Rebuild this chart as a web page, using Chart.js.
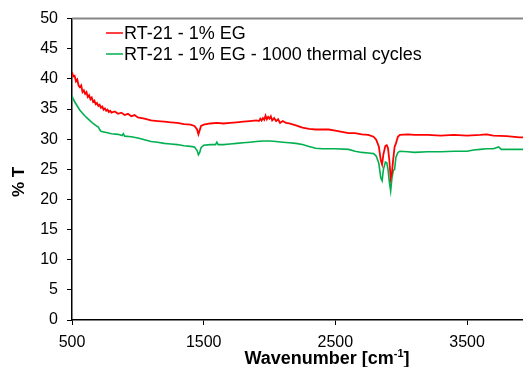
<!DOCTYPE html>
<html>
<head>
<meta charset="utf-8">
<script src="https://cdn.jsdelivr.net/npm/chart.js@4.4.0/dist/chart.umd.min.js"></script>
<style>
    html, body { margin: 0; padding: 0; background: #ffffff; }
    #ftirChart { display: block; }
</style>
</head>
<body>
<canvas id="ftirChart" width="523" height="367"></canvas>
<script>
// Series labels
const seriesLabels = ['RT-21 - 1% EG', 'RT-21 - 1% EG - 1000 thermal cycles'];

// RT-21 - 1% EG (red, noisy trace)
const redWavenumber = [500, 510, 520, 530, 540, 550, 560, 570, 580, 590, 600, 610, 620, 630, 640, 650,
    660, 670, 680, 690, 700, 710, 720, 730, 740, 750, 760, 770, 780, 790, 800, 825, 850, 875, 900, 925,
    950, 975, 1000, 1050, 1100, 1150, 1200, 1250, 1300, 1350, 1400, 1430, 1450, 1460, 1470, 1480,
    1500, 1550, 1600, 1650, 1700, 1750, 1800, 1850, 1900, 1920, 1930, 1940, 1950, 1960, 1970, 1980,
    1990, 2000, 2010, 2020, 2035, 2050, 2065, 2080, 2100, 2125, 2150, 2200, 2250, 2300, 2350, 2400,
    2450, 2500, 2550, 2600, 2650, 2700, 2750, 2790, 2810, 2830, 2845, 2855, 2865, 2880, 2890, 2900,
    2910, 2920, 2930, 2940, 2950, 2960, 2975, 2990, 3050, 3100, 3200, 3300, 3400, 3500, 3600, 3650,
    3700, 3800, 3900, 3925];
const redT = [41.1, 40.4, 40.5, 39.6, 39.9, 38.9, 38.6, 38.9, 37.8, 38.1, 37.5, 37.8, 37.0, 37.3, 36.6, 36.9,
    36.2, 36.4, 35.8, 36.0, 35.5, 35.7, 35.2, 35.4, 34.9, 35.1, 34.7, 34.9, 34.5, 34.7, 34.4, 34.6, 34.2, 34.4,
    34.0, 34.2, 33.8, 34.0, 33.6, 33.4, 33.1, 33.0, 32.9, 32.8, 32.7, 32.5, 32.4, 32.2, 31.6, 30.8, 31.5,
    32.2, 32.4, 32.6, 32.7, 32.6, 32.7, 32.8, 32.9, 33.0, 33.1, 33.0, 33.4, 33.1, 33.5, 33.2, 33.9, 33.3,
    33.7, 33.4, 33.8, 33.1, 33.5, 33.0, 33.3, 32.7, 33.0, 32.7, 32.6, 32.3, 31.9, 31.7, 31.6, 31.6,
    31.6, 31.4, 31.2, 31.0, 31.0, 30.8, 30.7, 30.4, 29.9, 28.8, 26.5, 25.8, 27.5, 28.9, 29.0, 28.5,
    26.5, 23.5, 24.5, 26.8, 28.7, 29.3, 30.4, 30.7, 30.8, 30.7, 30.7, 30.6, 30.7, 30.6, 30.7, 30.8,
    30.6, 30.5, 30.3, 30.3];

// RT-21 - 1% EG - 1000 thermal cycles (green)
const greenWavenumber = [500, 520, 540, 560, 580, 600, 620, 640, 660, 680, 700, 710, 720, 740, 760, 800,
    850, 880, 890, 900, 950, 1000, 1050, 1100, 1150, 1200, 1250, 1300, 1350, 1400, 1430, 1450, 1460,
    1470, 1480, 1500, 1550, 1590, 1600, 1610, 1650, 1700, 1750, 1800, 1850, 1900, 1950, 2000, 2050,
    2100, 2150, 2200, 2250, 2300, 2330, 2350, 2400, 2500, 2600, 2650, 2700, 2750, 2790, 2810, 2830,
    2845, 2855, 2865, 2880, 2890, 2900, 2910, 2920, 2930, 2940, 2950, 2960, 2975, 2990, 3050, 3100,
    3200, 3300, 3400, 3500, 3550, 3600, 3650, 3700, 3740, 3760, 3800, 3900, 3925];
const greenT = [37.1, 36.2, 35.5, 34.8, 34.3, 33.8, 33.4, 33.0, 32.6, 32.3, 32.0, 31.6, 31.3, 31.2, 31.1, 30.9,
    30.8, 30.6, 30.9, 30.5, 30.4, 30.2, 29.9, 29.6, 29.5, 29.3, 29.2, 29.1, 28.9, 28.8, 28.7, 28.1, 27.4,
    27.8, 28.6, 29.0, 29.1, 29.1, 29.5, 29.1, 29.1, 29.2, 29.3, 29.4, 29.5, 29.6, 29.7, 29.7, 29.6,
    29.5, 29.4, 29.3, 29.1, 28.8, 28.6, 28.5, 28.4, 28.4, 28.3, 28.0, 27.8, 27.7, 27.6, 27.2, 26.0,
    23.6, 23.1, 25.0, 26.2, 26.1, 25.0, 22.9, 21.4, 23.6, 24.8, 25.0, 27.0, 27.8, 28.0, 27.9, 27.8,
    27.9, 27.9, 28.0, 28.0, 28.2, 28.3, 28.4, 28.4, 28.7, 28.3, 28.3, 28.3, 28.3];

// Axis ticks
const xTicks = [500, 1500, 2500, 3500];
const yTicks = [0, 5, 10, 15, 20, 25, 30, 35, 40, 45, 50];

const colors = {
    red: '#ff0000',
    green: '#00b050'
};

const FONT = '"Liberation Sans", Arial, sans-serif';

function toPoints(xs, ys) {
    return xs.map((x, i) => ({ x: x, y: ys[i] }));
}

// Draws the top border, legend and axis titles
const decorPlugin = {
    id: 'decor',
    afterDraw(chart) {
        const ctx = chart.ctx;
        const area = chart.chartArea;
        ctx.save();

        // gray top border of the plot area
        ctx.strokeStyle = '#868686';
        ctx.lineWidth = 2;
        ctx.beginPath();
        ctx.moveTo(area.left, area.top);
        ctx.lineTo(area.right, area.top);
        ctx.stroke();

        // legend
        const legendRows = [
            { label: seriesLabels[0], color: colors.red, y: 33 },
            { label: seriesLabels[1], color: colors.green, y: 54 }
        ];
        ctx.font = '18px ' + FONT;
        ctx.textBaseline = 'middle';
        ctx.textAlign = 'left';
        legendRows.forEach(row => {
            ctx.strokeStyle = row.color;
            ctx.lineWidth = 1.5;
            ctx.beginPath();
            ctx.moveTo(106, row.y);
            ctx.lineTo(123, row.y);
            ctx.stroke();
            ctx.fillStyle = '#000000';
            ctx.fillText(row.label, 124, row.y + 1);
        });

        // y axis title
        ctx.save();
        ctx.translate(19, 182);
        ctx.rotate(-Math.PI / 2);
        ctx.font = 'bold 17px ' + FONT;
        ctx.textAlign = 'center';
        ctx.fillStyle = '#000000';
        ctx.fillText('% T', 0, 0);
        ctx.restore();

        // x axis title with superscript
        const mainFont = 'bold 18px ' + FONT;
        const supFont = 'bold 11px ' + FONT;
        const part1 = 'Wavenumber [cm';
        const sup = '-1';
        const part2 = ']';
        ctx.font = mainFont;
        const w1 = ctx.measureText(part1).width;
        const w3 = ctx.measureText(part2).width;
        ctx.font = supFont;
        const w2 = ctx.measureText(sup).width;
        const total = w1 + w2 + w3;
        let x = 327 - total / 2;
        const baseY = 364;
        ctx.textAlign = 'left';
        ctx.textBaseline = 'alphabetic';
        ctx.fillStyle = '#000000';
        ctx.font = mainFont;
        ctx.fillText(part1, x, baseY);
        x += w1;
        ctx.font = supFont;
        ctx.fillText(sup, x, baseY - 7);
        x += w2;
        ctx.font = mainFont;
        ctx.fillText(part2, x, baseY);

        ctx.restore();
    }
};

new Chart(document.getElementById('ftirChart'), {
    type: 'line',
    data: {
        datasets: [{
            label: seriesLabels[0],
            data: toPoints(redWavenumber, redT),
            borderColor: colors.red,
            borderWidth: 1.8,
            pointRadius: 0,
            tension: 0,
            fill: false
        }, {
            label: seriesLabels[1],
            data: toPoints(greenWavenumber, greenT),
            borderColor: colors.green,
            borderWidth: 1.6,
            pointRadius: 0,
            tension: 0,
            fill: false
        }]
    },
    options: {
        responsive: false,
        animation: false,
        devicePixelRatio: 1,
        layout: {
            padding: { top: 18, right: 0, left: 0, bottom: 0 }
        },
        plugins: {
            legend: { display: false },
            tooltip: { enabled: false }
        },
        scales: {
            x: {
                type: 'linear',
                min: 500,
                max: 3925,
                afterBuildTicks: scale => {
                    scale.ticks = xTicks.map(v => ({ value: v }));
                },
                afterFit: scale => { scale.height = 47; },
                border: { color: '#000000', width: 1.5 },
                grid: {
                    drawOnChartArea: false,
                    drawTicks: true,
                    tickLength: 5,
                    color: '#000000'
                },
                ticks: {
                    color: '#000000',
                    padding: 8,
                    maxRotation: 0,
                    callback: value => String(value),
                    font: { family: FONT, size: 16 }
                }
            },
            y: {
                min: 0,
                max: 50,
                afterBuildTicks: scale => {
                    scale.ticks = yTicks.map(v => ({ value: v }));
                },
                afterFit: scale => { scale.width = 72; },
                border: { color: '#000000', width: 1.5 },
                grid: {
                    drawOnChartArea: false,
                    drawTicks: true,
                    tickLength: 5,
                    color: '#000000'
                },
                ticks: {
                    color: '#000000',
                    padding: 9,
                    callback: value => String(value),
                    font: { family: FONT, size: 16 }
                }
            }
        }
    },
    plugins: [decorPlugin]
});
</script>
</body>
</html>
